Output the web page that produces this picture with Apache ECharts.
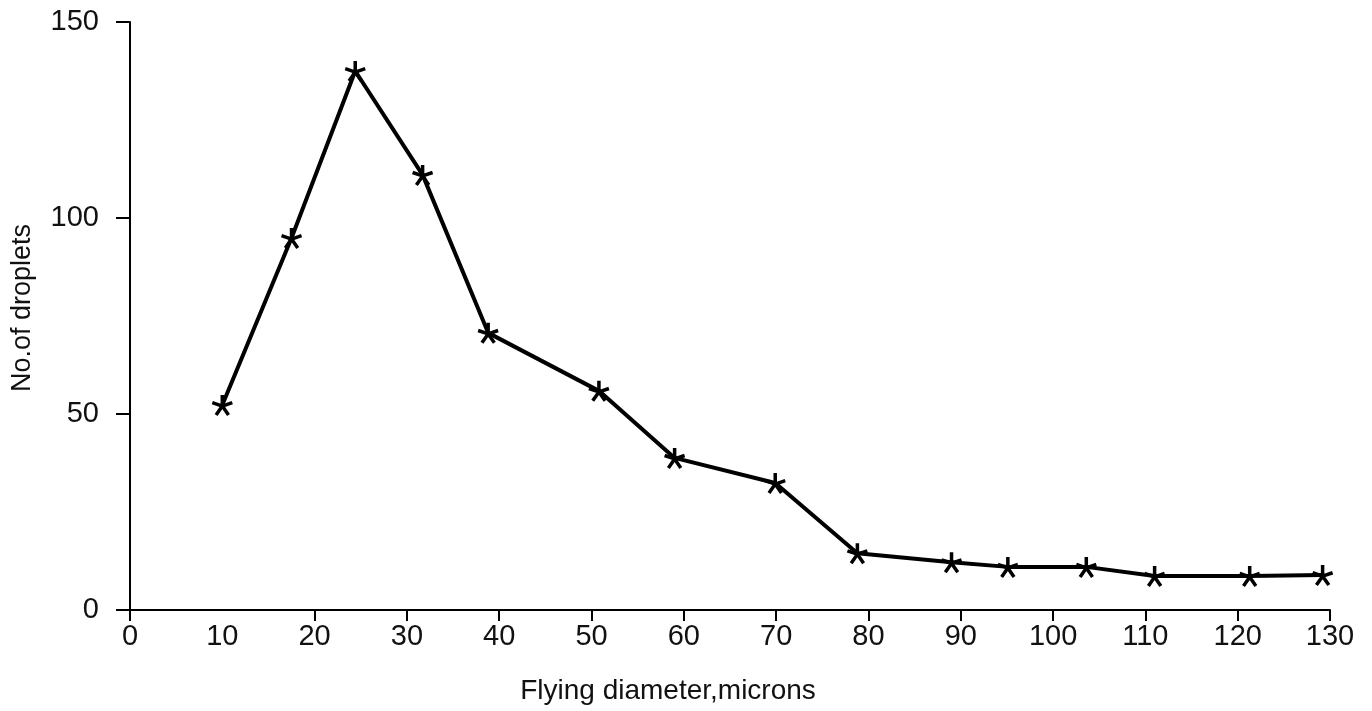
<!DOCTYPE html>
<html>
<head>
<meta charset="utf-8">
<script src="https://cdn.jsdelivr.net/npm/echarts@6/dist/echarts.min.js"></script>
<style>
  html, body { margin: 0; padding: 0; background: #fff; }
  #chart { width: 1372px; height: 711px; }
</style>
</head>
<body>
<div id="chart"></div>
<script>
// Droplet size distribution: number of droplets per flying diameter (microns)
const diameters = [10, 17.5, 24.4, 31.7, 38.8, 50.8, 59.0, 69.9, 78.8, 89.0, 95.1, 103.6, 111.0, 121.3, 129.2];
const dropletCounts = [52.3, 94.9, 137.5, 111.0, 70.7, 55.9, 38.8, 32.4, 14.5, 12.2, 11.0, 11.0, 8.7, 8.7, 8.9];
const xLabelValues = [0, 10, 20, 30, 40, 50, 60, 70, 80, 90, 100, 110, 120, 130];
const xTickValues = [0, 20, 30, 40, 50, 60, 70, 80, 90, 100, 110, 120, 130];
const yTickValues = [0, 50, 100, 150];

// five-spoke asterisk marker
const asterisk = 'path://M0,-10L0,0M0,0L9.5,-3.1M0,0L5.9,8.1M0,0L-5.9,8.1M0,0L-9.5,-3.1';

const font = 'Liberation Sans, Arial, Helvetica, sans-serif';
const chart = echarts.init(document.getElementById('chart'));

chart.setOption({
  backgroundColor: '#ffffff',
  animation: false,
  grid: { left: 130, right: 42, top: 22, bottom: 101, containLabel: false },
  xAxis: {
    type: 'value',
    min: 0,
    max: 130,
    interval: 10,
    name: 'Flying diameter,microns',
    nameLocation: 'middle',
    nameGap: 67,
    nameTextStyle: { fontFamily: font, fontSize: 28, color: '#111', padding: [0, 124, 0, 0] },
    axisLine: { show: true, lineStyle: { color: '#000', width: 2 } },
    axisTick: { show: true, length: 11, customValues: xTickValues, lineStyle: { color: '#000', width: 2 } },
    axisLabel: { customValues: xLabelValues, margin: 12, fontFamily: font, fontSize: 29, color: '#111' },
    splitLine: { show: false }
  },
  yAxis: {
    type: 'value',
    min: 0,
    max: 150,
    interval: 50,
    name: 'No.of droplets',
    nameLocation: 'middle',
    nameGap: 94,
    nameTextStyle: { fontFamily: font, fontSize: 27, color: '#111', padding: [0, 0, 0, 16] },
    axisLine: { show: true, lineStyle: { color: '#000', width: 2 } },
    axisTick: { show: true, length: 14, customValues: yTickValues, lineStyle: { color: '#000', width: 2 } },
    axisLabel: { customValues: yTickValues, margin: 31, fontFamily: font, fontSize: 29, color: '#111' },
    splitLine: { show: false }
  },
  series: [{
    type: 'line',
    data: diameters.map((d, i) => [d, dropletCounts[i]]),
    symbol: asterisk,
    symbolSize: 20,
    showAllSymbol: true,
    lineStyle: { color: '#000', width: 4 },
    itemStyle: { color: '#fff', borderColor: '#000', borderWidth: 3.5 },
    z: 3
  }]
});
</script>
</body>
</html>
